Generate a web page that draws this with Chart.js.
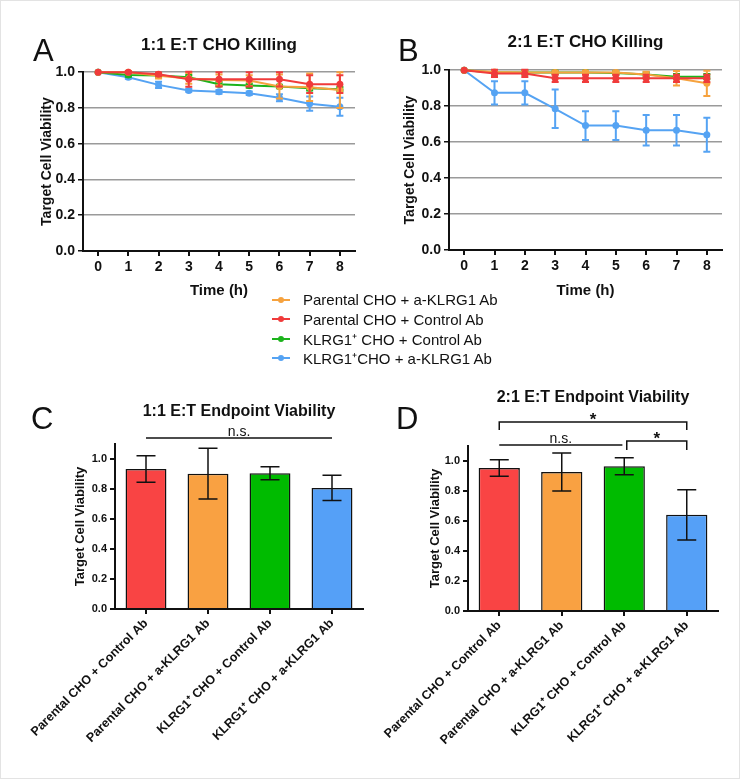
<!DOCTYPE html>
<html>
<head>
<meta charset="utf-8">
<script src="https://cdn.jsdelivr.net/npm/chart.js@4.4.1/dist/chart.umd.min.js"></script>
<style>
  body { margin: 0; background: #fff; }
  #page { position: relative; width: 740px; height: 779px; background: #fff; overflow: hidden;
          font-family: "Liberation Sans", Arial, sans-serif; color: #111;
          outline: 1px solid #e3e3e3; outline-offset: -1px; }
  canvas { position: absolute; }
  .letter { position: absolute; font-size: 31px; line-height: 1; }
  #legend { position: absolute; left: 272px; top: 290px; font-size: 15px; }
  .row { height: 19.5px; display: flex; align-items: center; white-space: nowrap; }
  .key { position: relative; width: 18px; height: 2px; margin-right: 13px; }
  .key i { position: absolute; left: 6px; top: -2px; width: 6px; height: 6px; border-radius: 50%; }
</style>
</head>
<body>
<div id="page">
  <canvas id="chart_a" width="370" height="300" style="left:0;top:0"></canvas>
  <canvas id="chart_b" width="370" height="300" style="left:370px;top:0"></canvas>
  <canvas id="chart_c" width="370" height="399" style="left:0;top:380px"></canvas>
  <canvas id="chart_d" width="370" height="399" style="left:370px;top:380px"></canvas>
  <div class="letter" style="left:33px;top:35px">A</div>
  <div class="letter" style="left:398px;top:35px">B</div>
  <div class="letter" style="left:31px;top:403px">C</div>
  <div class="letter" style="left:396px;top:403px">D</div>
  <div id="legend"></div>
</div>
<script>
const hours = ["0", "1", "2", "3", "4", "5", "6", "7", "8"];
const series_names = ["Parental CHO + a-KLRG1 Ab", "Parental CHO + Control Ab", "KLRG1\u207A CHO + Control Ab", "KLRG1\u207ACHO + a-KLRG1 Ab"];
const line_colors = ["#f6a23e", "#f03b3b", "#1cb31c", "#55a3f3"];

// 1:1 E:T, mean viability per hour (orange, red, green, blue)
const parental_ab_1 = [1.0, 1.0, 0.98, 0.965, 0.957, 0.953, 0.92, 0.916, 0.90];
const parental_ctrl_1 = [1.0, 1.0, 0.989, 0.96, 0.96, 0.96, 0.96, 0.933, 0.933];
const klrg_ctrl_1 = [1.0, 0.985, 0.981, 0.972, 0.933, 0.925, 0.92, 0.91, 0.905];
const klrg_ab_1 = [1.0, 0.972, 0.929, 0.898, 0.89, 0.882, 0.857, 0.824, 0.807];
const parental_ab_1_err = [0, 0.005, 0.015, 0.03, 0.03, 0.03, 0.067, 0.077, 0.1];
const parental_ctrl_1_err = [0, 0.005, 0.01, 0.042, 0.04, 0.04, 0.04, 0.05, 0.05];
const klrg_ctrl_1_err = [0, 0.01, 0.01, 0.012, 0.012, 0.012, 0.01, 0.012, 0.012];
const klrg_ab_1_err = [0, 0.008, 0.017, 0.008, 0.01, 0.01, 0.02, 0.04, 0.05];

// 2:1 E:T
const parental_ab_2 = [1.0, 0.99, 0.987, 0.987, 0.987, 0.987, 0.976, 0.955, 0.927];
const parental_ctrl_2 = [1.0, 0.982, 0.982, 0.955, 0.955, 0.955, 0.955, 0.955, 0.955];
const klrg_ctrl_2 = [1.0, 0.987, 0.987, 0.987, 0.987, 0.985, 0.976, 0.964, 0.964];
const klrg_ab_2 = [1.0, 0.874, 0.874, 0.785, 0.692, 0.692, 0.666, 0.666, 0.641];
const parental_ab_2_err = [0, 0.01, 0.01, 0.01, 0.01, 0.01, 0.015, 0.04, 0.07];
const parental_ctrl_2_err = [0, 0.02, 0.02, 0.02, 0.02, 0.02, 0.02, 0.02, 0.02];
const klrg_ctrl_2_err = [0, 0.012, 0.012, 0.01, 0.01, 0.01, 0.012, 0.015, 0.015];
const klrg_ab_2_err = [0, 0.065, 0.065, 0.107, 0.08, 0.08, 0.085, 0.085, 0.095];

// endpoint bars
const bar_labels = ["Parental CHO + Control Ab", "Parental CHO + a-KLRG1 Ab", "KLRG1\u207A CHO + Control Ab", "KLRG1\u207A CHO + a-KLRG1 Ab"];
const bar_colors = ["#f94444", "#f9a142", "#00bb00", "#55a0f7"];
const endpoint_1 = [0.933, 0.902, 0.905, 0.807];
const endpoint_1_err = [0.088, 0.169, 0.043, 0.084];
const endpoint_2 = [0.953, 0.927, 0.965, 0.641];
const endpoint_2_err = [0.055, 0.127, 0.056, 0.167];

// significance marks: from/to category index, height in viability units
const marks_c = [{ from: 0, to: 3, y: 1.14, leg: 0, label: "n.s." }];
const marks_d = [
  { from: 0, to: 3, y: 1.26, leg: 0.053, label: "*" },
  { from: 0, to: 1.97, y: 1.107, leg: 0, label: "n.s." },
  { from: 2.04, to: 3, y: 1.133, leg: 0.06, label: "*" },
];

const FONT = '"Liberation Sans", Arial, sans-serif';
Chart.defaults.font.family = FONT;
Chart.defaults.color = "#111";

// legend
const legend = document.getElementById("legend");
series_names.forEach((name, k) => {
  const row = document.createElement("div");
  row.className = "row";
  row.innerHTML = '<span class="key" style="background:' + line_colors[k] + '"><i style="background:' + line_colors[k] + '"></i></span>' + name;
  legend.appendChild(row);
});

const error_bars = {
  id: "error_bars",
  afterDatasetDraw(chart, args) {
    const ds = chart.data.datasets[args.index];
    if (!ds.errors) return;
    const y = chart.scales.y;
    const ctx = chart.ctx;
    ctx.save();
    ctx.strokeStyle = ds.errorColor;
    ctx.lineWidth = ds.errorWidth;
    args.meta.data.forEach((el, i) => {
      const e = ds.errors[i];
      if (!e) return;
      const hi = y.getPixelForValue(ds.data[i] + e);
      const lo = y.getPixelForValue(ds.data[i] - e);
      const w = ds.capWidth / 2;
      ctx.beginPath();
      ctx.moveTo(el.x, hi); ctx.lineTo(el.x, lo);
      ctx.moveTo(el.x - w, hi); ctx.lineTo(el.x + w, hi);
      ctx.moveTo(el.x - w, lo); ctx.lineTo(el.x + w, lo);
      ctx.stroke();
    });
    ctx.restore();
  }
};

const brackets = {
  id: "brackets",
  afterDraw(chart, args, opts) {
    const x = chart.scales.x, y = chart.scales.y, ctx = chart.ctx;
    ctx.save();
    ctx.strokeStyle = "#111";
    ctx.fillStyle = "#111";
    ctx.lineWidth = 1.5;
    ctx.textAlign = "center";
    ctx.textBaseline = "alphabetic";
    (opts.marks || []).forEach(m => {
      const x1 = x.getPixelForValue(m.from), x2 = x.getPixelForValue(m.to);
      const yy = y.getPixelForValue(m.y);
      ctx.beginPath();
      if (m.leg) {
        const yl = y.getPixelForValue(m.y - m.leg);
        ctx.moveTo(x1, yl); ctx.lineTo(x1, yy); ctx.lineTo(x2, yy); ctx.lineTo(x2, yl);
      } else {
        ctx.moveTo(x1, yy); ctx.lineTo(x2, yy);
      }
      ctx.stroke();
      if (m.label === "*") {
        ctx.font = "bold 17px " + FONT;
        ctx.fillText(m.label, (x1 + x2) / 2, yy + 3);
      } else {
        ctx.font = "14px " + FONT;
        ctx.fillText(m.label, (x1 + x2) / 2, yy - 2);
      }
    });
    ctx.restore();
  }
};

function lineChart(id, title, means, errs, lay) {
  return new Chart(document.getElementById(id), {
    type: "line",
    data: {
      labels: hours,
      datasets: means.map((m, k) => ({
        label: series_names[k],
        data: m,
        errors: errs[k],
        errorColor: line_colors[k],
        errorWidth: 2,
        capWidth: 7,
        borderColor: line_colors[k],
        backgroundColor: line_colors[k],
        borderWidth: 2,
        pointRadius: 3.5,
        pointBorderWidth: 0,
        order: k === 1 ? 0 : 1,
        clip: false,
      })),
    },
    options: {
      responsive: false,
      animation: false,
      layout: { padding: lay.padding },
      plugins: {
        legend: { display: false },
        tooltip: { enabled: false },
        title: {
          display: true, text: title, fullSize: false,
          font: { size: 17, weight: "bold" }, color: "#111",
          padding: lay.titlePad,
        },
      },
      scales: {
        x: {
          offset: true,
          grid: { drawOnChartArea: false, tickLength: 5, tickColor: "#111", lineWidth: 2 },
          border: { color: "#111", width: 2 },
          ticks: { font: { size: 14, weight: "bold" }, color: "#111", padding: 3 },
          title: { display: true, text: "Time (h)", font: { size: 15, weight: "bold" }, color: "#111", padding: 0 },
          afterFit: s => { s.height = lay.xHeight; },
        },
        y: {
          min: 0, max: 1,
          grid: { color: "#9a9a9a", lineWidth: 1.5, tickColor: "#111", tickLength: 5 },
          border: { color: "#111", width: 2 },
          ticks: { stepSize: 0.2, font: { size: 14, weight: "bold" }, color: "#111", padding: 3, callback: v => v.toFixed(1) },
          title: { display: true, text: "Target Cell Viability", font: { size: 14, weight: "bold" }, color: "#111", padding: 0 },
          afterFit: s => { s.width = lay.yWidth; },
        },
      },
    },
    plugins: [error_bars],
  });
}

function barChart(id, title, means, errs, marks, lay) {
  return new Chart(document.getElementById(id), {
    type: "bar",
    data: {
      labels: bar_labels,
      datasets: [{
        data: means,
        errors: errs,
        errorColor: "#111",
        errorWidth: 1.5,
        capWidth: 19,
        backgroundColor: bar_colors,
        borderColor: "#111",
        borderWidth: 1.5,
        barPercentage: 0.66,
        categoryPercentage: 1,
      }],
    },
    options: {
      responsive: false,
      animation: false,
      layout: { padding: lay.padding },
      plugins: {
        legend: { display: false },
        tooltip: { enabled: false },
        title: {
          display: true, text: title, fullSize: false,
          font: { size: 16, weight: "bold" }, color: "#111",
          padding: lay.titlePad,
        },
        brackets: { marks: marks },
      },
      scales: {
        x: {
          grid: { drawOnChartArea: false, offset: false, tickLength: 5, tickColor: "#111", lineWidth: 2 },
          border: { color: "#111", width: 2 },
          ticks: { font: { size: 12.5, weight: "bold" }, color: "#111", padding: 2, minRotation: 45, maxRotation: 45, autoSkip: false },
          afterFit: s => { s.height = lay.xHeight; },
        },
        y: {
          min: 0, max: 1.1,
          grid: { drawOnChartArea: false, tickColor: "#111", tickLength: 5, lineWidth: 2 },
          border: { color: "#111", width: 2 },
          ticks: { stepSize: 0.2, includeBounds: false, font: { size: 11, weight: "bold" }, color: "#111", padding: 3, callback: v => v.toFixed(1) },
          title: { display: true, text: "Target Cell Viability", font: { size: 13, weight: "bold" }, color: "#111", padding: 0 },
          afterFit: s => { s.width = lay.yWidth; },
        },
      },
    },
    plugins: [error_bars, brackets],
  });
}

lineChart("chart_a", "1:1 E:T CHO Killing",
  [parental_ab_1, parental_ctrl_1, klrg_ctrl_1, klrg_ab_1],
  [parental_ab_1_err, parental_ctrl_1_err, klrg_ctrl_1_err, klrg_ab_1_err],
  { padding: { left: 38.6, right: 15, top: 20, bottom: 0 }, titlePad: { top: 15.4, bottom: 16.4 }, xHeight: 49, yWidth: 44.4 });

lineChart("chart_b", "2:1 E:T CHO Killing",
  [parental_ab_2, parental_ctrl_2, klrg_ctrl_2, klrg_ab_2],
  [parental_ab_2_err, parental_ctrl_2_err, klrg_ctrl_2_err, klrg_ab_2_err],
  { padding: { left: 31.6, right: 18, top: 20, bottom: 0 }, titlePad: { top: 12.4, bottom: 17.4 }, xHeight: 50, yWidth: 47.4 });

barChart("chart_c", "1:1 E:T Endpoint Viability", endpoint_1, endpoint_1_err, marks_c,
  { padding: { left: 72.2, right: 7, top: 10, bottom: 0 }, titlePad: { top: 12.4, bottom: 22.4 }, xHeight: 170, yWidth: 42.8 });

barChart("chart_d", "2:1 E:T Endpoint Viability", endpoint_2, endpoint_2_err, marks_d,
  { padding: { left: 57.2, right: 22, top: 0, bottom: 0 }, titlePad: { top: 8.4, bottom: 38.4 }, xHeight: 168, yWidth: 40.8 });
</script>
</body>
</html>
